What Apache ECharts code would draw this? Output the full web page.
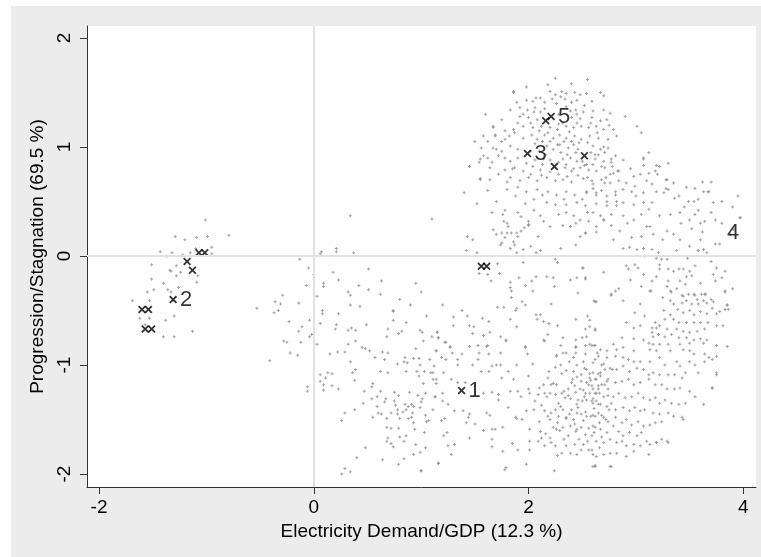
<!DOCTYPE html>
<html>
<head>
<meta charset="utf-8">
<script src="https://cdn.jsdelivr.net/npm/echarts@6/dist/echarts.min.js"></script>
<style>
html,body{margin:0;padding:0;background:#fff;}
#chart{width:761px;height:557px;}
</style>
</head>
<body>
<div id="chart"></div>
<script>
// ---------- data ----------
const xTicks = [-2, 0, 2, 4];
const yTicks = [-2, -1, 0, 1, 2];
const xTitle = 'Electricity Demand/GDP (12.3 %)';
const yTitle = 'Progression/Stagnation (69.5 %)';

// labelled cluster centres
const labelNames = ['1', '2', '3', '4', '5'];
const labelX = [1.376, -1.31, 1.99, 3.82, 2.21];
const labelY = [-1.234, -0.40, 0.94, 0.21, 1.28];
const labelMarker = [true, true, true, false, true];

// other black cross markers
const crossX = [-1.18, -1.13, -1.07, -1.015, -1.60, -1.54, -1.57, -1.51, 2.16, 2.24, 2.52, 1.56, 1.61];
const crossY = [-0.05, -0.13, 0.03, 0.03, -0.49, -0.49, -0.67, -0.67, 1.24, 0.82, 0.92, -0.094, -0.094];

// grey cloud of observations (x,y pairs)
const leftCloud = [-1.01,0.33, -1.29,0.18, -1.20,0.15, -1.09,0.17, -0.99,0.18, -0.79,0.19, -1.43,0.04, -1.32,0.03, -1.22,0.01, -1.15,0.03, -0.95,0.08, -0.95,0.02, -1.37,0.00, -1.51,-0.08, -1.34,-0.13, -1.28,-0.09, -1.24,-0.15, -1.08,-0.18, -1.51,-0.21, -1.09,-0.24, -1.40,-0.25, -1.55,-0.33, -1.49,-0.31, -1.36,-0.31, -1.33,-0.33, -1.26,-0.29, -1.69,-0.41, -1.53,-0.41, -1.30,-0.55, -1.62,-0.57, -1.53,-0.57, -1.38,-0.59, -1.57,-0.63, -1.40,-0.74, -1.30,-0.74, -1.13,-0.69, -1.10,0.07, -1.33,-0.14, -1.28,-0.18];

const midCloud = [0.34,0.37, 1.10,0.34, 0.07,0.04, 0.06,0.02, 0.21,0.07, 0.21,0.04, 0.37,0.03, -0.13,-0.03, -0.05,-0.11, 0.00,-0.17, 0.18,-0.15, 0.51,-0.12, 0.23,-0.22, 0.09,-0.25, 0.09,-0.28, -0.07,-0.27, 0.42,-0.27, 0.63,-0.23, 0.32,-0.33, 0.34,-0.36, 0.51,-0.31, 0.62,-0.35, 1.00,-0.33, -0.29,-0.36, 0.03,-0.37, -0.36,-0.42, -0.31,-0.44, -0.14,-0.43, -0.53,-0.48, -0.33,-0.50, -0.37,-0.52, 0.34,-0.45, 0.43,-0.46, 0.74,-0.50, 0.08,-0.50, 0.08,-0.53, 0.23,-0.53, -0.23,-0.60, -0.04,-0.59, 0.06,-0.62, 0.21,-0.63, 0.49,-0.63, 0.74,-0.59, 0.86,-0.61, -0.11,-0.65, -0.14,-0.69, 0.20,-0.67, 0.35,-0.66, 0.39,-0.68, 0.32,-0.68, 0.69,-0.67, 0.82,-0.69, 0.79,-0.71, 0.99,-0.68, 1.01,-0.70, 1.15,-0.70, -0.04,-0.74, -0.02,-0.72, 0.68,-0.74, 1.10,-0.74, 1.16,-0.75, 1.02,-0.78, -0.28,-0.78, -0.25,-0.79, -0.12,-0.79, 0.03,-0.81, 0.32,-0.81, 0.45,-0.84, 0.48,-0.85, 0.95,-0.85,
 0.74,-0.51, 0.80,-0.40, 0.90,-0.45, 1.05,-0.55, 0.95,-0.25, 1.20,-0.45,
 -0.22,-0.89, -0.15,-0.91, -0.41,-0.96, 0.39,-0.78, 0.15,-0.90, 0.22,-0.88, 0.29,-0.88, 0.34,-0.97, 0.52,-0.87, 0.57,-0.93, 0.64,-0.88, 0.69,-0.89, 0.66,-0.95, 0.78,-0.99, 0.85,-0.93, 0.84,-0.97, 0.87,-0.98, 0.93,-0.94, 0.98,-0.94, 0.99,-1.00, 1.08,-0.95, 1.14,-0.87, 1.12,-1.01, 0.06,-1.09, 0.13,-1.07, 0.17,-1.08, 0.11,-1.12, 0.06,-1.15, 0.09,-1.18, 0.09,-1.23, 0.17,-1.19, 0.23,-1.22, 0.36,-1.07, 0.39,-1.04, 0.38,-1.14, -0.06,-1.20, -0.06,-1.24, 0.55,-1.17, 0.54,-1.20, 0.47,-1.24, 0.62,-1.06, 0.69,-1.07, 0.86,-1.06, 0.96,-1.06, 0.98,-1.10, 1.03,-1.06, 1.09,-1.07, 1.11,-1.13, 1.02,-1.17, 1.14,-1.17, 0.62,-1.24, 0.75,-1.25, 0.79,-1.28, 0.89,-1.25, 0.97,-1.28, 1.04,-1.26, 1.13,-1.29, 0.46,-1.35, 0.54,-1.31, 0.59,-1.29, 0.59,-1.38, 0.67,-1.31, 0.66,-1.34, 0.75,-1.33, 0.76,-1.37, 0.78,-1.41, 0.85,-1.36, 0.88,-1.38, 0.91,-1.36, 0.93,-1.38, 1.00,-1.34, 1.01,-1.31, 0.99,-1.39, 1.11,-1.41, 0.38,-1.41, 0.60,-1.44, 0.63,-1.45, 0.68,-1.49, 0.72,-1.44, 0.78,-1.45, 0.83,-1.43, 0.86,-1.41, 0.92,-1.44, 0.80,-1.49, 0.88,-1.49, 0.91,-1.48, 1.04,-1.46, 0.55,-1.48, 0.26,-1.51, 0.29,-1.44, 0.93,-1.53, 1.05,-1.52, 1.07,-1.51, 0.68,-1.57, 0.72,-1.58, 0.79,-1.58, 0.94,-1.59, 1.03,-1.62, 0.69,-1.67, 0.80,-1.66, 0.86,-1.65, 0.68,-1.70, 0.72,-1.72, 0.84,-1.70, 0.74,-1.75, 0.95,-1.73, 0.48,-1.76, 1.04,-1.76, 0.99,-1.80, 0.93,-1.82, 0.40,-1.85, 0.64,-1.87, 0.84,-1.86, 0.79,-1.91, 0.29,-1.95, 0.26,-2.00, 0.34,-1.98, 1.00,-1.97, 1.16,-1.90];

const centreCloud = [1.77,0.32, 1.81,0.27, 2.00,0.32, 2.00,0.28, 1.96,0.26, 2.14,0.32, 2.32,0.28, 2.44,0.30, 2.56,0.32, 2.70,0.33, 1.67,0.24, 1.70,0.20, 1.75,0.21, 1.78,0.17, 1.80,0.21, 1.84,0.21, 1.89,0.21, 1.90,0.18, 1.93,0.23, 1.75,0.12, 1.74,0.10, 1.86,0.13, 1.87,0.10, 1.83,0.07, 1.89,0.03, 1.95,0.06, 1.43,0.18, 1.48,0.15, 1.42,0.05, 1.52,0.03, 2.02,0.09, 2.07,0.03, 2.11,0.05, 2.09,0.18, 2.30,0.07, 2.44,0.10, 2.48,0.18, 2.53,0.21, 2.63,0.22, 1.71,-0.07, 1.73,-0.16, 1.65,-0.23, 1.62,-0.17, 1.54,-0.16, 1.95,-0.06, 2.25,-0.03, 2.27,-0.06, 2.50,-0.11, 1.91,-0.20, 1.83,-0.24, 1.97,-0.27, 2.03,-0.23, 2.07,-0.19, 2.17,-0.19, 2.23,-0.20, 2.39,-0.22, 2.45,-0.20, 2.53,-0.21, 1.83,-0.29, 1.84,-0.32, 2.24,-0.28, 2.04,-0.32, 1.84,-0.38, 2.46,-0.34, 1.94,-0.42, 1.97,-0.45, 2.21,-0.44, 2.61,-0.41, 2.63,-0.42, 1.71,-0.47, 1.77,-0.47, 1.89,-0.48, 1.88,-0.50, 1.38,-0.50, 1.30,-0.56, 1.43,-0.55, 1.57,-0.57, 1.63,-0.60, 1.83,-0.58, 2.07,-0.54, 2.11,-0.54, 2.08,-0.58, 2.14,-0.60, 2.19,-0.62, 2.27,-0.64, 2.44,-0.58, 2.55,-0.55, 2.57,-0.59, 2.53,-0.67, 2.57,-0.65, 2.62,-0.68, 1.30,-0.64, 1.15,-0.70, 1.45,-0.64, 1.49,-0.65, 1.48,-0.71, 1.64,-0.70, 1.58,-0.73, 1.89,-0.65, 2.18,-0.72, 1.74,-0.74, 1.79,-0.77, 1.97,-0.83, 2.14,-0.77, 2.32,-0.75, 2.44,-0.77, 2.50,-0.75, 2.54,-0.74, 2.44,-0.84, 2.53,-0.82, 2.61,-0.82, 1.16,-0.75, 1.23,-0.79, 1.27,-0.83, 1.45,-0.83, 1.53,-0.82, 1.61,-0.83];

const lowerCloud = [1.22,-0.79, 1.27,-0.84, 1.62,-0.82, 1.79,-0.78, 1.97,-0.84, 2.15,-0.78, 2.30,-0.82, 2.44,-0.83, 2.59,-0.82, 1.14,-0.87, 1.29,-0.89, 1.38,-0.90, 1.54,-0.89, 1.63,-0.90, 1.74,-0.89, 1.99,-0.90, 2.26,-0.91, 2.32,-0.89, 2.35,-0.89, 2.44,-0.89, 2.53,-0.90, 2.64,-0.89, 1.19,-0.93, 1.23,-0.95, 1.34,-0.95, 1.34,-1.00, 1.48,-1.00, 1.53,-0.95, 1.56,-1.06, 1.66,-1.01, 1.70,-1.00, 1.74,-1.00, 1.89,-1.00, 2.04,-0.99, 2.19,-1.06, 2.26,-0.92, 2.30,-1.00, 2.35,-1.05, 2.45,-1.00, 2.51,-0.97, 2.54,-1.04, 2.42,-1.06, 2.57,-1.08, 2.60,-1.07, 2.65,-1.08, 2.62,-1.13, 2.45,-1.11, 2.49,-1.15, 2.54,-1.16, 2.59,-1.19, 2.65,-1.19, 1.11,-1.07, 1.14,-1.13, 1.21,-1.07, 1.28,-1.13, 1.34,-1.16, 1.41,-1.16, 1.63,-1.06, 1.75,-1.12, 1.81,-1.06, 1.86,-1.13, 2.00,-1.10, 2.14,-1.18, 2.21,-1.18, 2.26,-1.18, 2.37,-1.22, 2.40,-1.16, 2.44,-1.25, 2.48,-1.22, 2.53,-1.26, 2.57,-1.26, 2.62,-1.26, 2.66,-1.26, 1.20,-1.26, 1.13,-1.29, 1.20,-1.33, 1.25,-1.36, 1.58,-1.26, 1.66,-1.25, 1.72,-1.27, 1.72,-1.32, 1.83,-1.24, 1.90,-1.24, 1.93,-1.29, 2.00,-1.22, 2.01,-1.26, 2.09,-1.27, 2.15,-1.26, 2.20,-1.26, 2.25,-1.27, 2.31,-1.26, 2.34,-1.30, 2.39,-1.31, 2.46,-1.32, 2.50,-1.33, 2.54,-1.32, 2.60,-1.35, 2.63,-1.33, 1.31,-1.42, 1.39,-1.42, 1.44,-1.48, 1.45,-1.45, 1.61,-1.44, 1.64,-1.46, 1.81,-1.39, 1.88,-1.48, 1.94,-1.50, 1.98,-1.42, 2.15,-1.42, 2.20,-1.50, 2.25,-1.41, 2.28,-1.47, 2.32,-1.41, 2.35,-1.48, 2.40,-1.41, 2.42,-1.50, 2.45,-1.44, 2.49,-1.45, 2.54,-1.47, 2.60,-1.46, 2.65,-1.44, 1.19,-1.51, 1.22,-1.49, 1.24,-1.62, 1.42,-1.53, 1.50,-1.54, 1.58,-1.60, 1.66,-1.59, 1.69,-1.59, 1.76,-1.57, 1.89,-1.49, 2.01,-1.59, 2.11,-1.61, 2.23,-1.57, 2.26,-1.59, 2.32,-1.57, 2.39,-1.56, 2.45,-1.59, 2.49,-1.57, 2.56,-1.58, 2.62,-1.57, 1.21,-1.65, 1.25,-1.74, 1.31,-1.73, 1.45,-1.67, 1.66,-1.68, 1.66,-1.75, 1.76,-1.79, 1.85,-1.72, 1.90,-1.78, 2.01,-1.70, 2.01,-1.78, 2.09,-1.70, 2.12,-1.67, 2.15,-1.74, 2.20,-1.67, 2.25,-1.74, 2.27,-1.83, 2.35,-1.74, 2.39,-1.81, 2.45,-1.82, 2.47,-1.68, 2.51,-1.73, 2.56,-1.78, 2.60,-1.82, 2.62,-1.92, 1.16,-1.90, 1.28,-1.82, 1.79,-1.94, 1.98,-1.91, 2.24,-1.97, 1.78,-1.96, 2.60,-1.93, 2.76,-1.93, 1.00,-1.97,
 2.25,-1.02, 2.38,-0.97, 2.52,-1.03, 2.70,-0.99, 2.78,-1.04, 2.18,-1.12, 2.31,-1.08, 2.41,-1.13, 2.49,-1.09, 2.58,-1.14, 2.67,-1.10, 2.73,-1.15, 2.10,-1.21, 2.23,-1.17, 2.33,-1.24, 2.43,-1.19, 2.51,-1.23, 2.56,-1.18, 2.65,-1.22, 2.71,-1.18, 2.06,-1.33, 2.17,-1.29, 2.28,-1.35, 2.37,-1.28, 2.45,-1.36, 2.52,-1.29, 2.60,-1.31, 2.67,-1.36, 2.74,-1.28, 2.05,-1.41, 2.12,-1.37, 2.21,-1.44, 2.30,-1.38, 2.38,-1.45, 2.46,-1.39, 2.53,-1.43, 2.61,-1.40, 2.68,-1.46, 2.75,-1.41, 2.10,-1.52, 2.18,-1.47, 2.27,-1.53, 2.35,-1.49, 2.43,-1.54, 2.51,-1.51, 2.58,-1.47, 2.66,-1.53, 2.72,-1.50, 2.16,-1.63, 2.29,-1.60, 2.37,-1.65, 2.44,-1.61, 2.53,-1.64, 2.61,-1.62, 2.68,-1.66, 2.21,-1.71, 2.33,-1.68, 2.43,-1.73, 2.55,-1.70, 2.66,-1.76, 2.31,-1.81, 2.49,-1.78, 2.63,-1.84, 2.42,-0.93, 2.62,-0.95];

const rightLowCloud = [2.81,-0.32, 3.14,-0.32, 3.33,-0.33, 3.43,-0.36, 3.49,-0.35, 3.55,-0.36, 3.61,-0.35, 3.65,-0.35, 3.83,-0.33, 2.77,-0.36, 2.62,-0.42, 2.88,-0.41, 3.04,-0.44, 3.32,-0.41, 3.35,-0.44, 3.43,-0.43, 3.47,-0.41, 3.52,-0.44, 3.57,-0.40, 3.58,-0.44, 3.63,-0.41, 3.66,-0.43, 3.72,-0.42, 3.85,-0.45, 3.78,-0.51, 3.26,-0.50, 3.32,-0.54, 3.39,-0.49, 3.44,-0.52, 3.50,-0.50, 3.54,-0.54, 3.60,-0.51, 3.66,-0.53, 3.71,-0.48, 3.75,-0.53, 3.83,-0.49, 2.99,-0.52, 3.08,-0.55, 3.27,-0.58, 3.18,-0.61, 3.22,-0.64, 3.35,-0.58, 3.40,-0.61, 3.47,-0.61, 3.54,-0.61, 3.60,-0.61, 3.67,-0.61, 3.75,-0.64, 3.81,-0.64, 2.91,-0.61, 2.98,-0.66, 3.04,-0.64, 3.15,-0.66, 3.19,-0.66, 3.29,-0.67, 3.38,-0.67, 3.44,-0.69, 3.50,-0.70, 3.57,-0.69, 3.64,-0.67, 2.62,-0.67, 3.15,-0.70, 3.16,-0.74, 3.21,-0.72, 3.27,-0.74, 3.33,-0.72, 3.40,-0.75, 3.47,-0.75, 3.54,-0.77, 3.60,-0.76, 3.66,-0.77, 2.87,-0.75, 2.98,-0.76, 3.07,-0.77, 3.12,-0.80, 3.16,-0.81, 3.22,-0.81, 3.30,-0.81, 3.41,-0.81, 3.50,-0.80, 3.63,-0.80, 3.75,-0.82, 2.57,-0.81, 2.62,-0.82, 2.79,-0.81, 2.67,-0.86, 2.73,-0.87, 2.82,-0.86, 2.88,-0.84, 2.98,-0.87, 3.13,-0.86, 3.19,-0.87, 3.32,-0.87, 3.44,-0.86, 3.50,-0.87, 3.54,-0.90, 3.64,-0.90, 3.68,-0.93, 3.71,-0.95, 3.75,-0.92, 2.65,-0.92, 2.73,-0.93, 2.81,-0.92, 2.88,-0.93, 2.93,-0.95, 2.98,-0.97, 3.04,-0.97, 3.13,-0.97, 3.22,-0.93, 3.27,-1.00, 3.38,-0.97, 3.41,-1.01, 3.50,-0.97, 3.55,-1.00, 3.58,-1.07, 3.64,-0.97, 3.75,-1.07, 3.71,-1.21, 2.60,-0.98, 2.68,-1.00, 2.71,-1.04, 2.67,-1.07, 2.76,-1.03, 2.82,-1.04, 2.88,-1.01, 2.94,-1.06, 3.01,-1.03, 3.07,-1.04, 3.12,-1.09, 3.16,-1.07, 3.22,-1.09, 3.30,-1.09, 3.36,-1.09, 3.43,-1.12, 3.46,-1.07, 2.57,-1.12, 2.63,-1.13, 2.68,-1.18, 2.74,-1.13, 2.81,-1.16, 2.87,-1.15, 2.93,-1.13, 2.98,-1.18, 3.04,-1.16, 3.12,-1.13, 3.18,-1.18, 3.24,-1.18, 3.29,-1.22, 3.36,-1.22, 3.41,-1.21, 3.50,-1.24, 3.55,-1.29, 3.63,-1.36, 2.60,-1.22, 2.63,-1.26, 2.70,-1.29, 2.74,-1.22, 2.79,-1.29, 2.84,-1.26, 2.90,-1.30, 2.96,-1.29, 3.02,-1.26, 3.07,-1.30, 3.13,-1.32, 3.18,-1.30, 3.22,-1.35, 3.27,-1.32, 3.33,-1.35, 3.40,-1.36, 3.46,-1.35, 2.59,-1.33, 2.65,-1.36, 2.73,-1.38, 2.77,-1.35, 2.81,-1.41, 2.88,-1.39, 2.94,-1.42, 2.99,-1.39, 3.04,-1.42, 3.08,-1.41, 3.16,-1.44, 3.22,-1.45, 3.30,-1.44, 3.35,-1.47, 3.43,-1.48, 2.62,-1.47, 2.70,-1.48, 2.74,-1.52, 2.81,-1.48, 2.87,-1.53, 2.91,-1.50, 2.96,-1.55, 3.02,-1.52, 3.07,-1.56, 3.13,-1.55, 3.18,-1.53, 3.24,-1.52, 2.60,-1.56, 2.67,-1.59, 2.73,-1.62, 2.79,-1.56, 2.84,-1.61, 2.88,-1.65, 2.94,-1.62, 3.01,-1.65, 3.05,-1.62, 3.10,-1.70, 3.13,-1.73, 3.19,-1.71, 3.24,-1.68, 3.30,-1.71, 2.59,-1.65, 2.63,-1.70, 2.70,-1.71, 2.76,-1.68, 2.82,-1.71, 2.87,-1.70, 2.91,-1.74, 2.98,-1.73, 3.04,-1.74, 2.59,-1.78, 2.70,-1.82, 2.76,-1.81, 2.82,-1.81, 2.91,-1.84, 2.98,-1.79, 3.12,-1.82, 2.62,-1.93, 2.77,-1.93, 3.85,-0.45, 3.86,-0.49, 3.85,-0.83, 3.71,-1.21, 3.75,-1.09, 3.44,-1.50, 3.29,-1.70, 3.19,-1.71,
 2.70,-0.15, 2.84,-0.30, 2.95,-0.22, 3.05,-0.28, 3.25,-0.38, 3.38,-0.30, 3.52,-0.18, 3.60,-0.25, 3.70,-0.40, 3.80,-0.20, 3.90,-0.30];

const topCloud = [2.18,1.57, 1.86,1.50, 2.20,1.51, 2.25,1.48, 2.31,1.51, 2.35,1.49, 2.43,1.50, 2.48,1.48, 2.54,1.49, 2.67,1.50, 2.70,1.47, 1.89,1.41, 1.98,1.43, 2.04,1.42, 2.11,1.45, 2.15,1.41, 2.22,1.44, 2.26,1.40, 2.34,1.44, 2.40,1.41, 2.45,1.43, 2.59,1.42, 1.83,1.34, 1.92,1.36, 1.99,1.34, 2.06,1.36, 2.11,1.32, 2.39,1.33, 2.44,1.34, 2.51,1.32, 2.70,1.34, 2.76,1.31, 1.92,1.28, 2.00,1.27, 2.08,1.25, 2.40,1.27, 2.48,1.26, 2.59,1.27, 2.67,1.24, 2.73,1.25, 1.67,1.19, 1.78,1.15, 1.86,1.16, 1.95,1.19, 2.04,1.18, 2.12,1.19, 2.20,1.18, 2.28,1.21, 2.35,1.19, 2.42,1.18, 2.49,1.19, 2.56,1.18, 2.63,1.19, 2.70,1.16, 2.79,1.16, 1.58,1.10, 1.69,1.11, 1.78,1.07, 1.87,1.13, 1.95,1.08, 2.03,1.11, 2.08,1.07, 2.15,1.11, 2.23,1.08, 2.29,1.11, 2.35,1.08, 2.43,1.10, 2.49,1.07, 2.57,1.10, 2.65,1.08, 2.74,1.07, 2.82,1.10, 1.56,0.99, 1.67,0.99, 1.75,0.96, 1.83,1.01, 1.90,0.98, 2.17,1.01, 2.23,0.98, 2.29,1.02, 2.37,0.99, 2.42,1.02, 2.46,0.98, 2.60,1.01, 2.67,0.98, 2.74,0.99, 1.55,0.89, 1.62,0.90, 1.72,0.92, 1.83,0.87, 1.90,0.90, 2.14,0.89, 2.32,0.89, 2.39,0.90, 2.45,0.87, 2.62,0.89, 2.70,0.87, 2.77,0.89, 1.64,0.81, 1.78,0.79, 1.87,0.81, 1.95,0.78, 2.04,0.82, 2.11,0.79, 2.34,0.81, 2.40,0.78, 2.48,0.81, 2.56,0.79, 2.63,0.78, 2.71,0.81, 2.79,0.76, 1.55,0.71, 1.64,0.70, 1.83,0.72, 1.92,0.69, 2.00,0.72, 2.08,0.69, 2.17,0.72, 2.25,0.69, 2.32,0.70, 2.40,0.68, 2.51,0.71, 2.59,0.69, 2.68,0.70, 2.76,0.67, 2.84,0.69, 1.80,0.61, 1.90,0.63, 1.98,0.59, 2.08,0.61, 2.18,0.59, 2.26,0.56, 2.35,0.59, 2.43,0.56, 2.54,0.59, 2.63,0.58, 2.73,0.55, 2.81,0.56, 2.17,0.49, 2.25,0.47, 2.35,0.47, 2.45,0.49, 2.53,0.46, 2.63,0.48, 2.73,0.46, 2.82,0.46, 1.66,0.40, 1.76,0.38, 1.90,0.40, 2.11,0.37, 2.28,0.38, 2.42,0.37, 2.48,0.33, 2.67,0.37, 2.77,0.38, 1.80,0.30, 2.00,0.29, 2.20,0.27, 2.39,0.27, 2.63,0.27, 2.77,0.28,
 1.55,0.70, 1.54,0.86, 1.69,1.10, 1.67,1.18, 1.86,1.51, 2.25,1.63, 2.55,1.62, 3.01,1.19, 3.05,1.13, 2.90,1.28,
 2.02,1.22, 2.10,1.15, 2.18,1.13, 2.27,1.16, 2.32,1.22, 2.38,1.14, 2.45,1.22, 2.06,1.03, 2.13,1.05, 2.20,1.05, 2.27,1.02, 2.33,1.05, 2.40,1.05, 2.47,1.04, 2.55,1.04, 2.02,0.96, 2.10,0.96, 2.16,0.93, 2.30,0.95, 2.36,0.93, 2.44,0.95, 2.50,0.87, 2.58,0.95, 2.65,0.93, 1.98,0.85, 2.06,0.88, 2.13,0.84, 2.20,0.88, 2.28,0.86, 2.35,0.84, 2.42,0.80, 2.52,0.83, 2.60,0.84, 2.02,0.75, 2.12,0.74, 2.20,0.77, 2.28,0.75, 2.36,0.73, 2.46,0.74, 2.55,0.72, 1.85,0.80, 1.78,0.90, 1.70,0.98, 1.75,1.05, 1.82,1.10, 1.90,1.22, 1.95,1.30, 2.05,1.32, 2.15,1.35, 2.28,1.30, 2.35,1.37, 2.45,1.30, 2.52,1.38, 2.60,1.33, 1.75,1.25, 1.62,1.05, 1.58,0.92, 1.66,0.86, 1.72,0.75, 1.80,0.68, 1.88,0.55, 1.97,0.48, 2.05,0.52, 2.13,0.56, 2.33,0.52, 2.50,0.52, 2.60,0.62, 2.68,0.60, 2.72,0.72, 2.78,0.82, 2.70,1.00, 2.64,1.13, 2.75,1.20, 2.58,1.22, 2.07,1.45, 2.30,1.46, 1.98,1.55, 2.40,1.58, 1.60,1.30, 1.50,1.05, 1.45,0.82, 1.40,0.58, 1.52,0.48, 1.62,0.60, 1.70,0.50, 1.78,0.42, 1.93,0.36, 2.05,0.42, 2.35,0.40, 2.55,0.40];

const rightCloud = [2.62,0.93, 2.71,0.95, 2.81,0.92, 2.54,0.84, 2.68,0.82, 2.77,0.86, 2.84,0.78, 3.07,0.90, 3.07,0.83, 3.22,0.82, 2.98,0.73, 3.04,0.75, 3.12,0.76, 3.18,0.78, 2.76,0.75, 2.91,0.67, 2.99,0.64, 3.10,0.69, 3.15,0.66, 3.28,0.70, 3.35,0.67, 2.71,0.67, 2.60,0.66, 2.54,0.58, 2.63,0.56, 2.81,0.59, 2.88,0.61, 2.96,0.59, 3.07,0.58, 3.19,0.59, 3.26,0.58, 3.30,0.61, 3.47,0.63, 3.36,0.53, 3.49,0.50, 3.54,0.50, 3.58,0.52, 3.63,0.59, 3.67,0.59, 3.72,0.49, 2.73,0.50, 2.82,0.50, 2.88,0.49, 2.98,0.47, 3.07,0.49, 3.15,0.49, 2.60,0.40, 2.70,0.33, 2.88,0.37, 2.98,0.33, 3.05,0.38, 3.13,0.27, 3.22,0.37, 3.32,0.38, 3.41,0.40, 3.50,0.33, 3.55,0.38, 3.60,0.30, 3.64,0.32, 3.74,0.33, 3.97,0.35, 2.53,0.21, 2.79,0.15, 2.85,0.23, 2.96,0.17, 3.10,0.27, 3.16,0.20, 3.29,0.23, 3.41,0.15, 3.50,0.09, 3.60,0.15, 3.63,0.06, 3.66,0.03, 3.74,0.11, 3.78,0.11, 2.88,0.07, 2.94,0.08, 3.01,0.06, 3.07,0.07, 3.15,0.06, 3.08,0.00, 3.21,0.03, 3.24,-0.03, 3.19,-0.02, 3.29,-0.03, 2.51,-0.11, 2.53,-0.20, 2.91,-0.09, 2.99,-0.08, 3.02,-0.11, 2.93,-0.12, 3.07,-0.17, 3.22,-0.08, 3.22,-0.12, 3.19,-0.19, 3.30,-0.12, 3.35,-0.14, 3.40,-0.12, 3.44,-0.12, 3.50,-0.14, 3.55,-0.09, 3.47,-0.19, 3.75,-0.11, 3.83,-0.14, 3.72,-0.17, 3.74,-0.23, 3.30,-0.23, 3.41,-0.23, 3.46,-0.26, 3.15,-0.23, 3.29,-0.28, 3.13,-0.32, 3.32,-0.32, 3.44,-0.37, 3.54,-0.35, 3.64,-0.35, 3.83,-0.32, 2.77,-0.35,
 2.83,0.78, 3.07,0.89, 3.19,0.83, 3.29,0.70, 3.62,0.68, 3.68,0.59, 3.97,0.35, 3.91,0.24,
 3.20,0.75, 3.28,0.62, 3.40,0.55, 3.45,0.45, 3.58,0.42, 3.70,0.40, 3.80,0.30, 3.88,0.20, 3.62,0.22, 3.52,0.25, 3.42,0.30, 3.35,0.20, 3.25,0.15, 3.05,0.18, 2.92,0.30, 3.12,0.43, 3.00,0.55, 2.95,0.80, 2.88,0.88, 3.12,0.95, 3.30,0.85, 3.55,0.62, 3.80,0.50, 3.90,0.45, 3.95,0.55, 3.70,0.68, 3.58,0.05, 3.48,-0.02, 3.38,0.05, 3.70,-0.05];

// ---------- chart ----------
const XMIN = -2.112, XMAX = 4.118, YMIN = -2.119, YMAX = 2.11;

function pairs(flat) {
  const out = [];
  for (let i = 0; i + 1 < flat.length; i += 2) out.push([flat[i], flat[i + 1]]);
  return out;
}
const cloud = [].concat(pairs(leftCloud), pairs(midCloud), pairs(centreCloud),
  pairs(lowerCloud), pairs(rightLowCloud), pairs(topCloud), pairs(rightCloud));

const crossPath = 'path://M0,1.6L1.6,0L5,3.4L8.4,0L10,1.6L6.6,5L10,8.4L8.4,10L5,6.6L1.6,10L0,8.4L3.4,5Z';
const plusPath = 'path://M1,0H2V1H3V2H2V3H1V2H0V1H1Z';
const FONT = 'Liberation Sans, Arial, Helvetica, sans-serif';

const crossData = crossX.map((x, i) => [x, crossY[i]]);
const labelData = labelNames.map((n, i) => ({
  name: n,
  value: [labelX[i], labelY[i]],
  symbolSize: labelMarker[i] ? 8 : 0
}));

const chart = echarts.init(document.getElementById('chart'), null, { renderer: 'canvas' });
chart.setOption({
  backgroundColor: '#ffffff',
  animation: false,
  graphic: [{
    type: 'rect', z: -10, silent: true,
    shape: { x: 11, y: 6, width: 750, height: 551 },
    style: { fill: '#ececec' }
  }],
  grid: {
    left: 87, top: 26, right: 5, bottom: 70,
    show: true, backgroundColor: '#ffffff', borderWidth: 0
  },
  xAxis: {
    type: 'value', min: XMIN, max: XMAX,
    axisLine: { show: true, onZero: false, lineStyle: { color: '#333', width: 1 } },
    axisTick: { show: true, length: 7, customValues: xTicks, lineStyle: { color: '#333' } },
    axisLabel: { customValues: xTicks, fontSize: 19, color: '#000', margin: 11, fontFamily: FONT },
    splitLine: { show: false },
    name: xTitle, nameLocation: 'middle', nameGap: 29,
    nameTextStyle: { fontSize: 19, color: '#000', fontFamily: FONT }
  },
  yAxis: {
    type: 'value', min: YMIN, max: YMAX,
    axisLine: { show: true, onZero: false, lineStyle: { color: '#333', width: 1 } },
    axisTick: { show: true, length: 7, customValues: yTicks, lineStyle: { color: '#333' } },
    axisLabel: { customValues: yTicks, fontSize: 19, color: '#000', margin: 13, rotate: 90, fontFamily: FONT },
    splitLine: { show: false },
    name: yTitle, nameLocation: 'middle', nameGap: 27, nameRotate: 90,
    nameTextStyle: { fontSize: 19, color: '#000', fontFamily: FONT }
  },
  series: [
    {
      type: 'scatter', data: [], silent: true,
      markLine: {
        silent: true, symbol: ['none', 'none'], label: { show: false },
        lineStyle: { color: '#e3e3e3', width: 2, type: 'solid' },
        data: [{ xAxis: 0 }, { yAxis: 0 }]
      }
    },
    {
      type: 'scatter', data: cloud, symbol: plusPath, symbolSize: 3, silent: true,
      itemStyle: { color: '#8d8d8d' }
    },
    {
      type: 'scatter', data: crossData, symbol: crossPath, symbolSize: 8, silent: true,
      itemStyle: { color: '#000' }
    },
    {
      type: 'scatter', data: labelData, symbol: crossPath, silent: true,
      itemStyle: { color: '#000' },
      label: {
        show: true, position: 'right', distance: 3, formatter: '{b}',
        fontSize: 22, color: '#000', fontFamily: FONT
      }
    }
  ]
});
</script>
</body>
</html>
